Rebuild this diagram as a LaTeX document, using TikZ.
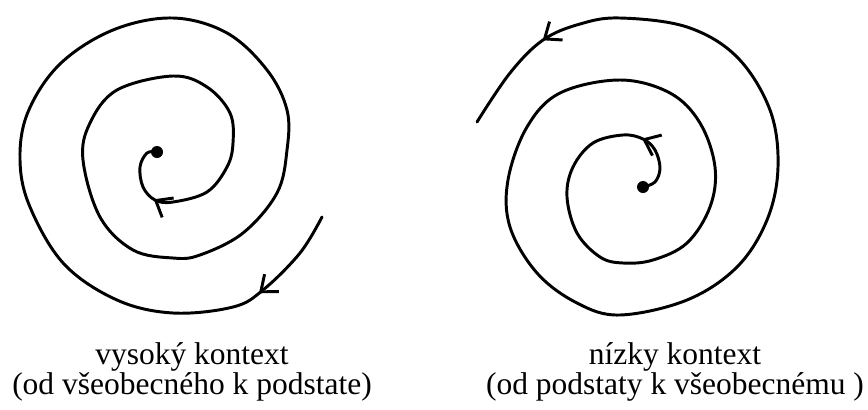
\documentclass[tikz,border=0pt]{standalone}
\usepackage{fontspec}
\setmainfont{Liberation Serif}
\usetikzlibrary{arrows.meta,decorations.markings}

\begin{document}
\begin{tikzpicture}[x=0.025cm, y=-0.025cm, >={Straight Barb[length=10pt, width=16pt]},
    spiral/.style={line width=2.1pt, line cap=round, line join=round},
    twoarrows/.style 2 args={postaction={decorate}, decoration={markings,
        mark=at position #1 with {\arrow{>}}, mark=at position #2 with {\arrow{>}}}},
    dot/.style={circle, fill, inner sep=0pt, minimum size=0.3cm},
    caption/.style={align=center, anchor=north, inner sep=0pt, font=\fontsize{22.4}{21.7}\selectfont}]
  \useasboundingbox (0,0) rectangle (868,409);

  % vysoký kontext: zvonka dovnútra
  \node[dot] (lcenter) at (157,152) {};
  \draw[spiral, twoarrows={71pt}{-45pt}] plot[smooth, tension=0.6] coordinates {
    (322,217) (300,253) (263,290) (233,307) (173,313) (117,300) (64,264) (30,207)
    (20,160) (28,112) (60,64) (113,30) (173,18) (227,33) (267,70) (287,110)
    (287,150) (277,193) (243,233) (200,255) (173,258) (133,250) (100,217) (83,160)
    (90,123) (117,90) (173,76) (207,87) (230,113) (233,143) (227,167) (207,192)
    (173,202) (155,200) (143,187) (140,167) (147,153) (lcenter.center)};
  \node[caption] (lcap) at (192,342) {vysoký kontext\\(od všeobecného k podstate)};

  % nízky kontext: zvnútra von
  \node[dot] (rcenter) at (643,187) {};
  \draw[spiral, twoarrows={46pt}{-75pt}] plot[smooth, tension=0.6] coordinates {
    (rcenter.center) (655,182) (660,168) (655,150) (643,139) (623,135) (593,143) (573,167)
    (567,197) (577,233) (600,257) (623,263) (653,260) (687,243) (710,207) (715,167)
    (700,123) (670,93) (620,80) (560,93) (527,127) (508,180) (510,227) (537,273)
    (577,303) (620,315) (687,300) (737,267) (767,220) (778,167) (770,110) (737,57)
    (687,27) (620,18) (580,24) (543,40) (510,73) (477,122)};
  \node[caption] (rcap) at (675,342) {nízky kontext\\(od podstaty k všeobecnému )};
\end{tikzpicture}
\end{document}
